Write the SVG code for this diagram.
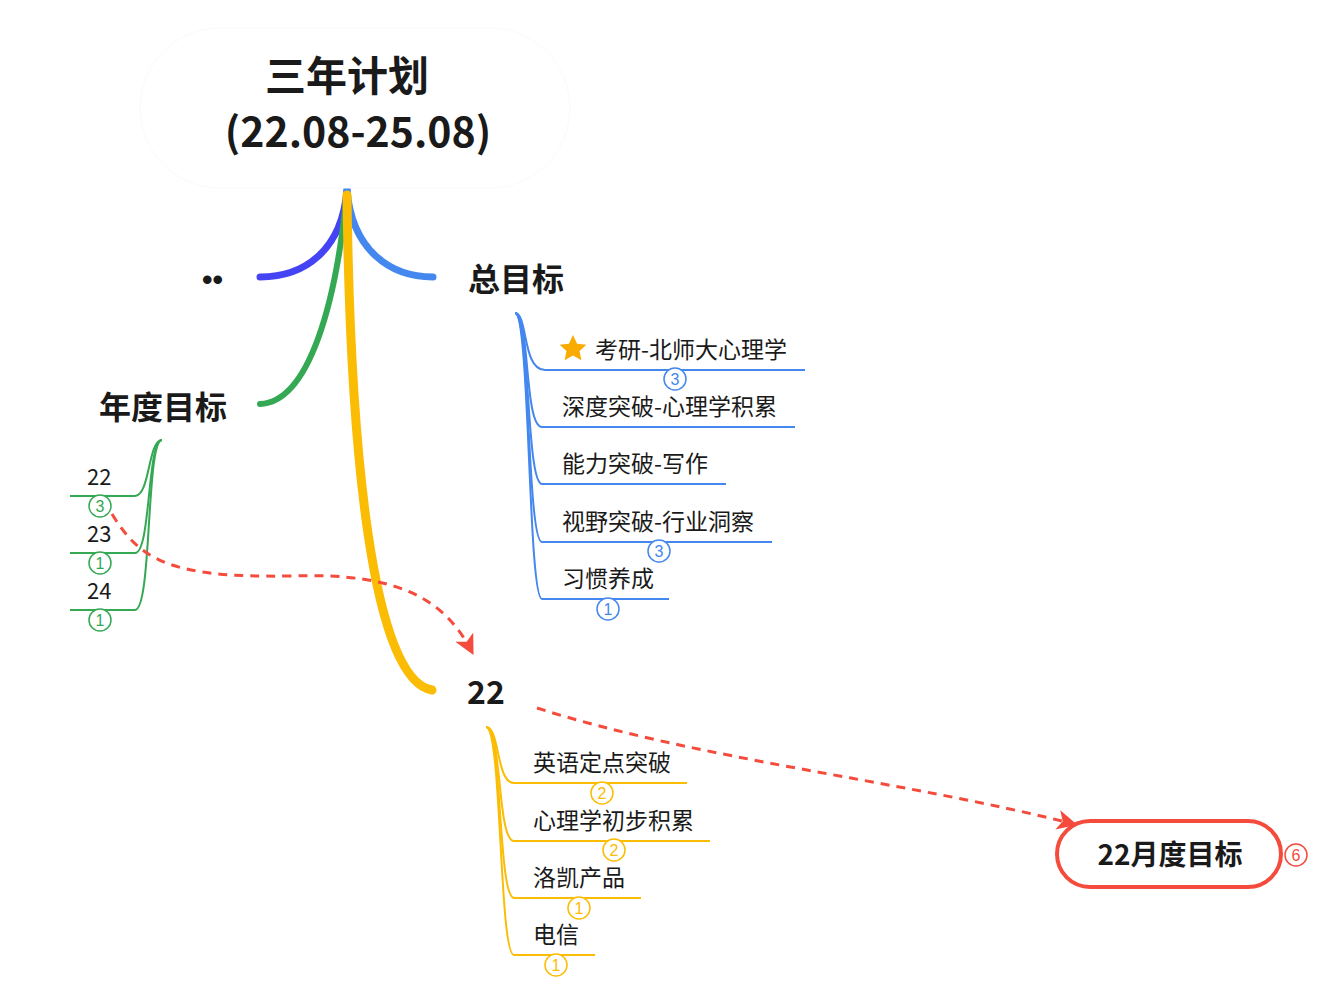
<svg xmlns="http://www.w3.org/2000/svg" width="1342" height="993" viewBox="0 0 1342 993">
<defs>
<style>
text{font-family:"Noto Sans CJK SC","Noto Sans",sans-serif;fill:#1a1a1a}
.t{font-size:41px;font-weight:bold;text-anchor:middle}
.h{font-size:32px;font-weight:bold}
.s{font-size:23px}
.g{font-size:22px}
.b{fill:#fff;stroke-width:1.5}
.bn{font-size:16px;text-anchor:middle;font-family:"Liberation Sans",sans-serif}
.main{fill:none;stroke-linecap:round}
.sub{fill:none;stroke-width:2}
.dash{fill:none;stroke:#f44b3c;stroke-width:3;stroke-dasharray:9,7}
</style>
<marker id="arr" viewBox="0 0 12 12" refX="10" refY="6" markerWidth="20" markerHeight="20" markerUnits="userSpaceOnUse" orient="auto"><path d="M0,0 L12,6 L0,12 L3,6 z" fill="#f44b3c"/></marker>
</defs>
<rect width="1342" height="993" fill="#fff"/>
<g id="connectors">
<path class="main" d="M347,190 C342,250 305,277 260,277" stroke="#4444f5" stroke-width="7"/>
<path class="main" d="M347,190 C352,250 390,277 433,277" stroke="#4487ee" stroke-width="7"/>
<path class="main" d="M346,200 C336,300 310,402 260,404" stroke="#34a853" stroke-width="6"/>
<path class="main" d="M347,195 C350,450 372,680 432,690" stroke="#fbbc04" stroke-width="9"/>
<g stroke="#34a853">
<path class="sub" d="M162,440 C148,440 150,496 135,496 L70,496"/>
<path class="sub" d="M162,440 C147,440 151,553 135,553 L70,553"/>
<path class="sub" d="M162,440 C146,440 152,610 135,610 L70,610"/>
</g>
<g stroke="#4487ee">
<path class="sub" d="M515,313 C528,313 522,370 545,370 L805,370"/>
<path class="sub" d="M515,313 C530,313 524,427 542,427 L795,427"/>
<path class="sub" d="M515,313 C530,313 526,484 542,484 L726,484"/>
<path class="sub" d="M515,313 C530,313 527,542 542,542 L772,542"/>
<path class="sub" d="M515,313 C530,313 528,599 542,599 L669,599"/>
</g>
<g stroke="#fbbc04">
<path class="sub" d="M486,727 C500,727 496,783 514,783 L687,783"/>
<path class="sub" d="M486,727 C502,727 497,841 514,841 L710,841"/>
<path class="sub" d="M486,727 C502,727 498,898 514,898 L641,898"/>
<path class="sub" d="M486,727 C502,727 499,955 514,955 L595,955"/>
</g>
<path class="dash" d="M112,514 C140,560 170,578 290,576 C400,572 445,600 472,652" marker-end="url(#arr)"/>
<path class="dash" d="M537,708 C700,760 900,780 1074,824" marker-end="url(#arr)"/>
</g>
<g id="root">
<rect x="140" y="28" width="430" height="160" rx="80" fill="#fff" stroke="#fafafa"/>
<text class="t" x="347" y="91">三年计划</text>
<text class="t" x="358" y="147">(22.08-25.08)</text>
</g>
<g id="dots"><text x="202" y="290" style="font-size:30px;font-weight:bold;font-family:'Liberation Sans',sans-serif">••</text></g>
<g id="zongmubiao"><text class="h" x="468" y="291">总目标</text></g>
<g id="niandu"><text class="h" x="99" y="419">年度目标</text></g>
<g id="n22main"><text class="h" x="467" y="704">22</text></g>
<g id="y22"><text class="g" x="87" y="485">22</text><circle class="b" cx="100" cy="506" r="11" stroke="#34a853"/><text class="bn" x="100" y="512" style="fill:#34a853">3</text></g>
<g id="y23"><text class="g" x="87" y="542">23</text><circle class="b" cx="100" cy="563" r="11" stroke="#34a853"/><text class="bn" x="100" y="569" style="fill:#34a853">1</text></g>
<g id="y24"><text class="g" x="87" y="599">24</text><circle class="b" cx="100" cy="620" r="11" stroke="#34a853"/><text class="bn" x="100" y="626" style="fill:#34a853">1</text></g>
<g id="g1"><path d="M573,335 L577.1,343.8 L586.4,344.8 L579.5,351.1 L581.4,360.3 L573,355.6 L564.6,360.3 L566.5,351.1 L559.6,344.8 L568.9,343.8 z" fill="#f9ab00"/><text class="s" x="595" y="358">考研-北师大心理学</text><circle class="b" cx="675" cy="379" r="11" stroke="#4487ee"/><text class="bn" x="675" y="385" style="fill:#4487ee">3</text></g>
<g id="g2"><text class="s" x="562" y="415">深度突破-心理学积累</text></g>
<g id="g3"><text class="s" x="562" y="472">能力突破-写作</text></g>
<g id="g4"><text class="s" x="562" y="530">视野突破-行业洞察</text><circle class="b" cx="659" cy="551" r="11" stroke="#4487ee"/><text class="bn" x="659" y="557" style="fill:#4487ee">3</text></g>
<g id="g5"><text class="s" x="562" y="587">习惯养成</text><circle class="b" cx="608" cy="609" r="11" stroke="#4487ee"/><text class="bn" x="608" y="615" style="fill:#4487ee">1</text></g>
<g id="p1"><text class="s" x="533" y="771">英语定点突破</text><circle class="b" cx="602" cy="793" r="11" stroke="#fbbc04"/><text class="bn" x="602" y="799" style="fill:#fbbc04">2</text></g>
<g id="p2"><text class="s" x="533" y="829">心理学初步积累</text><circle class="b" cx="614" cy="850" r="11" stroke="#fbbc04"/><text class="bn" x="614" y="856" style="fill:#fbbc04">2</text></g>
<g id="p3"><text class="s" x="533" y="886">洛凯产品</text><circle class="b" cx="579" cy="908" r="11" stroke="#fbbc04"/><text class="bn" x="579" y="914" style="fill:#fbbc04">1</text></g>
<g id="p4"><text class="s" x="533" y="943">电信</text><circle class="b" cx="556" cy="965" r="11" stroke="#fbbc04"/><text class="bn" x="556" y="971" style="fill:#fbbc04">1</text></g>
<g id="monthly"><rect x="1057" y="821" width="224" height="66" rx="33" fill="#fff" stroke="#f44b3c" stroke-width="4"/><text x="1170" y="865" style="font-size:28px;font-weight:bold;text-anchor:middle">22月度目标</text><circle class="b" cx="1296" cy="855" r="11" stroke="#f44b3c"/><text class="bn" x="1296" y="861" style="fill:#f44b3c">6</text></g>
</svg>
